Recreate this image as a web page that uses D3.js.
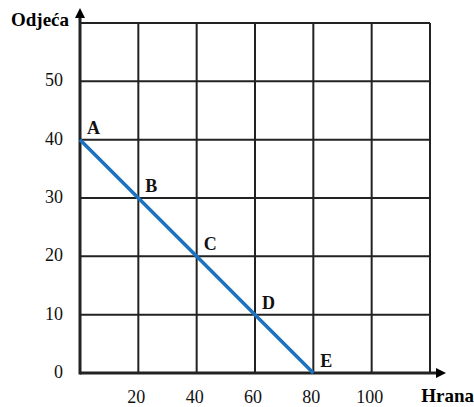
<!DOCTYPE html>
<html><head><meta charset="utf-8">
<script src="https://cdn.jsdelivr.net/npm/d3@7"></script>
<style>body{margin:0;background:#fff}svg{display:block}</style>
</head><body>
<svg id="c" width="474" height="407"></svg>
<script>
const pointNames = ["A","B","C","D","E"];
const hrana = [0,20,40,60,80];
const odjeca = [40,30,20,10,0];
const xTicks = [20,40,60,80,100];
const yTicks = [0,10,20,30,40,50];
const gridX = [0,20,40,60,80,100,120];
const gridY = [0,10,20,30,40,50,60];
const xTitle = "Hrana", yTitle = "Odjeća";

const svg = d3.select("#c");
const x = d3.scaleLinear().domain([0,120]).range([80,430]);
const y = d3.scaleLinear().domain([0,60]).range([373,23]);
const serif = '"Liberation Serif"';
const ink = "#222";

// grid
svg.append("g").selectAll("line").data(gridX.slice(1)).join("line")
  .attr("x1",d=>x(d)).attr("x2",d=>x(d)).attr("y1",y(0)).attr("y2",y(60))
  .attr("stroke",ink).attr("stroke-width",2);
svg.append("g").selectAll("line").data(gridY.slice(1)).join("line")
  .attr("x1",x(0)).attr("x2",x(120)).attr("y1",d=>y(d)).attr("y2",d=>y(d))
  .attr("stroke",ink).attr("stroke-width",2);

// axes
svg.append("line").attr("x1",x(0)).attr("x2",438).attr("y1",y(0)).attr("y2",y(0))
  .attr("stroke",ink).attr("stroke-width",3);
svg.append("line").attr("x1",x(0)).attr("x2",x(0)).attr("y1",y(0)+1.5).attr("y2",16)
  .attr("stroke",ink).attr("stroke-width",3);
svg.append("path").attr("d",`M446,${y(0)} L436,${y(0)-5} L436,${y(0)+5} Z`).attr("fill","#000");
svg.append("path").attr("d",`M${x(0)},8 L${x(0)-5},18 L${x(0)+5},18 Z`).attr("fill","#000");

// tick labels
svg.append("g").selectAll("text").data(yTicks).join("text")
  .attr("x",63).attr("y",d=>y(d)+5).attr("text-anchor","end")
  .style("font-family",serif).attr("font-size",18).attr("fill","#111").text(d=>d);
svg.append("g").selectAll("text").data(xTicks).join("text")
  .attr("x",d=>x(d)-2).attr("y",403).attr("text-anchor","middle")
  .style("font-family",serif).attr("font-size",18).attr("fill","#111").text(d=>d);

// titles
svg.append("text").attr("x",69).attr("y",26).attr("text-anchor","end")
  .style("font-family",serif).attr("font-weight","bold").attr("font-size",19).text(yTitle);
svg.append("text").attr("x",474).attr("y",402).attr("text-anchor","end")
  .style("font-family",serif).attr("font-weight","bold").attr("font-size",19).text(xTitle);

// line
const pts = hrana.map((h,i)=>({h, o:odjeca[i], n:pointNames[i]}));
svg.append("path").datum(pts)
  .attr("d",d3.line().x(d=>x(d.h)).y(d=>y(d.o)))
  .attr("fill","none").attr("stroke","#1b72c0").attr("stroke-width",3.5);

svg.append("g").selectAll("text").data(pts).join("text")
  .attr("x",d=>x(d.h)+7).attr("y",d=>y(d.o)-6)
  .style("font-family",serif).attr("font-weight","bold").attr("font-size",18).attr("fill","#111")
  .text(d=>d.n);
</script>
</body></html>
